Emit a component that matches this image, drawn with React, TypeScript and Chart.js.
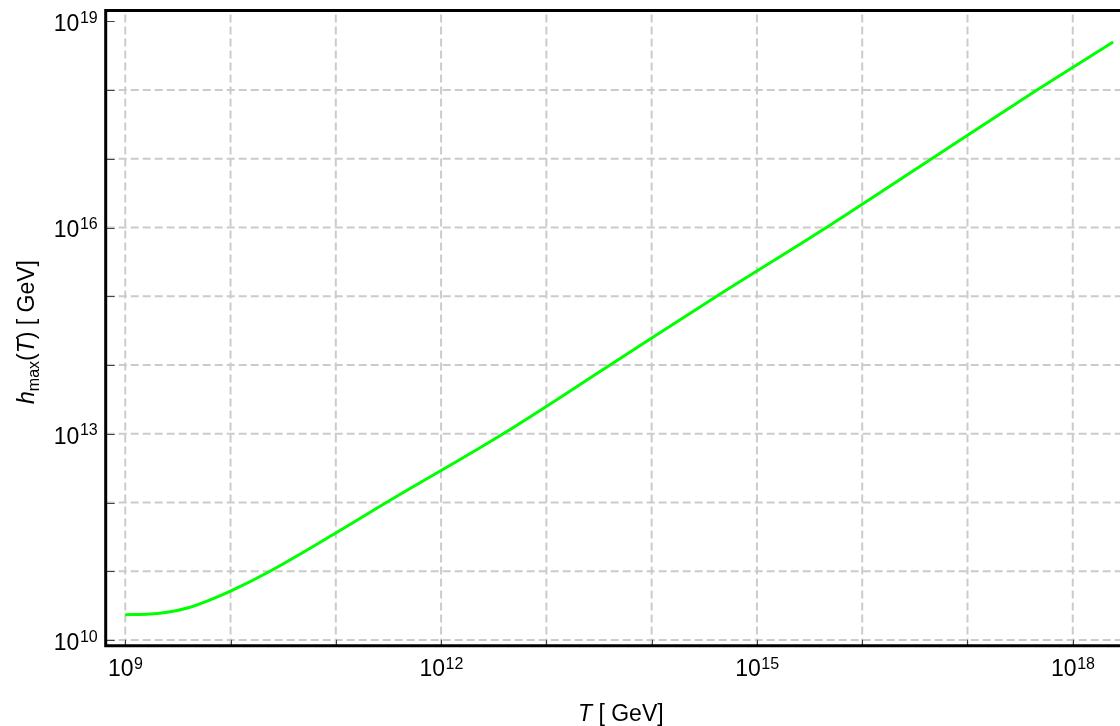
import { useEffect, useRef } from "react";
import { Chart, registerables } from "chart.js";

Chart.register(...registerables);

// Temperature T [GeV] and the corresponding h_max(T) [GeV]
const temperatureGeV = [
  1e9, 1.585e9, 2.51e9, 3.98e9, 6.31e9, 1e10, 2.37e10, 1e11, 3.02e11, 3.89e12,
  4.03e13, 4.15e14, 4.57e15, 4.57e16, 4.57e17, 2.42e18,
];
const hMaxGeV = [
  2.34e10, 2.37e10, 2.54e10, 2.95e10, 3.8e10, 5.13e10, 1e11, 3.6e11, 1e12,
  1e13, 1e14, 1e15, 1e16, 1e17, 1e18, 5.0e18,
];

// Axis ranges
const xRange = [6.52e8, 2.81e18];
const yRange = [8.24e9, 1.435e19];

// Decade grid lines and tick marks
const xGridDecades = [9, 10, 11, 12, 13, 14, 15, 16, 17, 18];
const yGridDecades = [10, 11, 12, 13, 14, 15, 16, 17, 18];
const yTickDecades = [10, 11, 12, 13, 14, 15, 16, 17, 18, 19];

// Labelled decades (drawn as 10 with a superscript exponent)
const xLabelDecades = ["9", "12", "15", "18"];
const yLabelDecades = ["10", "13", "16", "19"];

const FONT = '"Liberation Sans", Arial, Helvetica, sans-serif';
const MAIN = 23;
const SUP = 16;
const GRID_COLOR = "#cbcbcb";

const framePlugin = {
  id: "frame",
  beforeDatasetsDraw(chart: any) {
    const { ctx, chartArea: a, scales } = chart;
    const xs = scales.x;
    const ys = scales.y;
    ctx.save();
    ctx.beginPath();
    ctx.rect(a.left, a.top, a.right - a.left, a.bottom - a.top);
    ctx.clip();
    ctx.strokeStyle = GRID_COLOR;
    ctx.lineWidth = 2;
    ctx.setLineDash([8, 4]);
    for (const d of yGridDecades) {
      const y = ys.getPixelForValue(Math.pow(10, d));
      ctx.beginPath();
      ctx.moveTo(a.left + 1, y);
      ctx.lineTo(a.right, y);
      ctx.stroke();
    }
    for (const d of xGridDecades) {
      const x = xs.getPixelForValue(Math.pow(10, d));
      ctx.beginPath();
      ctx.moveTo(x, a.top + 4);
      ctx.lineTo(x, a.bottom);
      ctx.stroke();
    }
    ctx.restore();
  },
  afterDraw(chart: any) {
    const { ctx, chartArea: a, scales } = chart;
    const xs = scales.x;
    const ys = scales.y;
    ctx.save();

    // tick marks
    ctx.setLineDash([]);
    ctx.strokeStyle = "#444";
    ctx.lineWidth = 1;
    for (const d of yTickDecades) {
      const y = Math.round(ys.getPixelForValue(Math.pow(10, d))) + 0.5;
      ctx.beginPath();
      ctx.moveTo(a.left, y);
      ctx.lineTo(a.left + 9, y);
      ctx.stroke();
    }
    for (const d of xGridDecades) {
      const x = Math.round(xs.getPixelForValue(Math.pow(10, d))) + 0.5;
      ctx.beginPath();
      ctx.moveTo(x, a.bottom);
      ctx.lineTo(x, a.bottom - 6);
      ctx.stroke();
    }

    // frame: left, top, bottom
    ctx.strokeStyle = "#000";
    ctx.lineWidth = 3;
    ctx.beginPath();
    ctx.moveTo(a.right + 2, a.top);
    ctx.lineTo(a.left, a.top);
    ctx.lineTo(a.left, a.bottom);
    ctx.lineTo(a.right + 2, a.bottom);
    ctx.stroke();

    ctx.fillStyle = "#000";
    ctx.textBaseline = "alphabetic";

    // x tick labels
    for (const e of xLabelDecades) {
      const x = xs.getPixelForValue(Math.pow(10, Number(e)));
      ctx.font = `${MAIN}px ${FONT}`;
      const w1 = ctx.measureText("10").width;
      ctx.font = `${SUP}px ${FONT}`;
      const w2 = ctx.measureText(e).width;
      const start = x - (w1 + w2) / 2;
      ctx.textAlign = "left";
      ctx.font = `${MAIN}px ${FONT}`;
      ctx.fillText("10", start, a.bottom + 30.5);
      ctx.font = `${SUP}px ${FONT}`;
      ctx.fillText(e, start + w1 + 0.5, a.bottom + 22.8);
    }

    // y tick labels
    for (const e of yLabelDecades) {
      const y = ys.getPixelForValue(Math.pow(10, Number(e)));
      const right = a.left - 8;
      ctx.textAlign = "right";
      ctx.font = `${SUP}px ${FONT}`;
      const w2 = ctx.measureText(e).width;
      ctx.fillText(e, right, y + 1.5);
      ctx.font = `${MAIN}px ${FONT}`;
      ctx.fillText("10", right - w2 - 0.5, y + 9.8);
    }

    // x axis title: T [ GeV]
    {
      const parts: [string, string][] = [
        ["T", `italic ${MAIN}px ${FONT}`],
        [" [ GeV]", `${MAIN}px ${FONT}`],
      ];
      let x = 578;
      ctx.textAlign = "left";
      for (const [t, f] of parts) {
        ctx.font = f;
        ctx.fillText(t, x, 720.5);
        x += ctx.measureText(t).width;
      }
    }

    // y axis title: h_max(T) [ GeV]
    {
      const parts: [string, string, number][] = [
        ["h", `italic ${MAIN}px ${FONT}`, 0],
        ["max", `${SUP}px ${FONT}`, 5],
        ["(", `${MAIN}px ${FONT}`, 0],
        ["T", `italic ${MAIN}px ${FONT}`, 0],
        [")", `${MAIN}px ${FONT}`, 0],
        [" [ GeV]", `${MAIN}px ${FONT}`, 0],
      ];
      let total = 0;
      for (const [t, f] of parts) {
        ctx.font = f;
        total += ctx.measureText(t).width;
      }
      ctx.translate(34, 332);
      ctx.rotate(-Math.PI / 2);
      let x = -total / 2;
      ctx.textAlign = "left";
      for (const [t, f, dy] of parts) {
        ctx.font = f;
        ctx.fillText(t, x, dy);
        x += ctx.measureText(t).width;
      }
    }
    ctx.restore();
  },
};

export default function App() {
  const canvasRef = useRef<HTMLCanvasElement | null>(null);

  useEffect(() => {
    const canvas = canvasRef.current;
    if (!canvas) return;
    const points = temperatureGeV.map((t, i) => ({ x: t, y: hMaxGeV[i] }));
    const chart = new Chart(canvas, {
      type: "line",
      data: {
        datasets: [
          {
            data: points,
            borderColor: "#00ff00",
            borderWidth: 3,
            pointRadius: 0,
            fill: false,
            cubicInterpolationMode: "monotone",
          },
        ],
      },
      options: {
        animation: false,
        responsive: false,
        devicePixelRatio: 1,
        events: [],
        layout: { padding: { top: 10.5, right: 0, bottom: 0, left: 0 } },
        plugins: {
          legend: { display: false },
          tooltip: { enabled: false },
          title: { display: false },
        },
        scales: {
          x: {
            type: "logarithmic",
            min: xRange[0],
            max: xRange[1],
            bounds: "data",
            grid: { display: false },
            border: { display: false },
            ticks: { display: false },
            afterBuildTicks: (s: any) => {
              s.ticks = xGridDecades.map((d) => ({ value: Math.pow(10, d) }));
            },
            afterFit: (s: any) => {
              s.height = 80.2;
            },
          },
          y: {
            type: "logarithmic",
            min: yRange[0],
            max: yRange[1],
            bounds: "data",
            grid: { display: false },
            border: { display: false },
            ticks: { display: false },
            afterBuildTicks: (s: any) => {
              s.ticks = yTickDecades.map((d) => ({ value: Math.pow(10, d) }));
            },
            afterFit: (s: any) => {
              s.width = 105.7;
            },
          },
        },
      } as any,
      plugins: [framePlugin],
    });
    return () => chart.destroy();
  }, []);

  return (
    <div style={{ position: "absolute", left: 0, top: 0, width: 1120, height: 726, background: "#fff" }}>
      <canvas ref={canvasRef} width={1120} height={726} style={{ display: "block" }} />
    </div>
  );
}
